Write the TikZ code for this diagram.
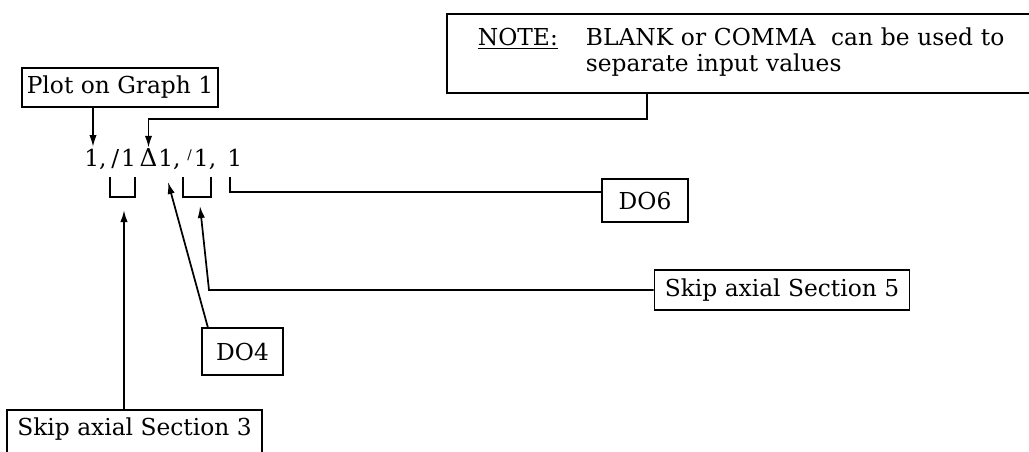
\documentclass[tikz,border=0pt]{standalone}
\usepackage{fontspec}
\setmainfont{DejaVu Serif}
\usetikzlibrary{arrows.meta}
\begin{document}
\begin{tikzpicture}[x=0.75pt,y=-0.75pt,
  font=\fontsize{17.5}{18.75}\selectfont,
  box/.style={draw, line width=1.3pt, inner sep=0pt, align=center},
  con/.style={line width=1.3pt},
  arr/.style={con, -{Latex[length=9pt,width=5.5pt]}},
  tok/.style={inner sep=0pt, anchor=base west}]
\useasboundingbox (0,0) rectangle (1029,451);
\clip (0,0) rectangle (1029,451);
% boxes
\node[box, minimum width=147pt, minimum height=29.25pt] (plot) at (120,87.5) {Plot on Graph 1};
\node[box, anchor=north west, inner xsep=23.25pt, text width=399pt, minimum height=59.25pt, align=left] (note) at (446,13)
  {\begin{tabular}{@{}p{81pt}@{}l@{}}\underline{NOTE:} & BLANK or COMMA\ \ can be used to\\ & separate input values\end{tabular}};
\node[box, minimum width=64.5pt, minimum height=32.25pt] (do6) at (645,200.5) {DO6};
\node[box, minimum width=60.75pt, minimum height=35.25pt] (do4) at (242.5,351.5) {DO4};
\node[box, minimum width=191.25pt, minimum height=30pt] (skip5) at (782,290) {Skip axial Section 5};
\node[box, anchor=north, minimum width=191.25pt, text height=19.5pt, text depth=20pt, inner ysep=0pt] (skip3) at (134.5,409) {Skip axial Section 3};
% input line
\node[tok] (v1) at (84,166) {1,};
\node[tok] (v2) at (111,166) {/\kern1.5pt 1};
\node[inner sep=0pt, anchor=base, font=\fontsize{18.5}{18.5}\selectfont] (vd) at (148.5,166) {Δ};
\node[tok] (v3) at (158,166) {1,};
\node[tok] (v4) at (187,166) {\makebox[5pt][l]{\raisebox{0.5ex}{\fontsize{10}{10}\selectfont /}}1,};
\node[tok] (v5) at (227,166) {1};
% brackets
\draw[con] (110,177) -- (110,197) -- (135,197) -- (135,177);
\draw[con] (183,177) -- (183,197) -- (211,197) -- (211,177);
% coordinates
\coordinate (tip1) at (93,147);
\coordinate (nj) at (647,119);
\coordinate (tip3) at (124,210);
\coordinate (tip4) at (168,182);
\coordinate (k5) at (209,290);
\coordinate (tip5) at (200,206);
\coordinate (k6) at (230,177);
% connectors
\draw[arr] (plot.south -| tip1) -- (tip1);
\draw[arr] (note.south -| nj) -- (nj) -- (nj -| vd.north) -- (vd.north);
\draw[arr] ([xshift=5pt]do4.north west) -- (tip4);
\draw[arr] (skip5.west) -- (k5) -- (tip5);
\draw[con] (k6) |- ([yshift=6.4pt]do6.west);
\draw[arr] (skip3.north -| tip3) -- (tip3);
\end{tikzpicture}
\end{document}
